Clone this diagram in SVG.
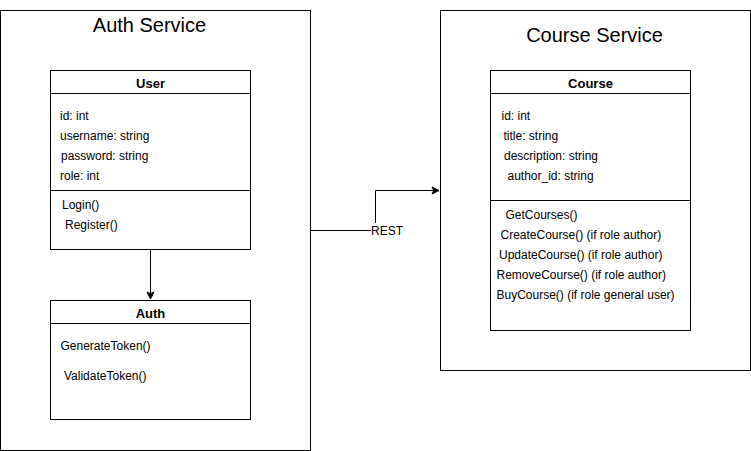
<svg xmlns="http://www.w3.org/2000/svg" width="751" height="451" viewBox="0 0 751 451">
<style>
.box{fill:#fff;stroke:#000;stroke-width:1}
.ln{fill:none;stroke:#000;stroke-width:1}
text{font-family:"Liberation Sans",Arial,sans-serif;fill:#000}
.t{font-size:20px;text-anchor:middle}
.h{font-size:13px;font-weight:bold;text-anchor:middle}
.a{font-size:12px}
</style>
<defs>
<marker id="arr" markerUnits="userSpaceOnUse" markerWidth="10" markerHeight="10" viewBox="0 0 10 10" refX="8" refY="5" orient="auto">
<path d="M8,5 L1,1.5 L2.75,5 L1,8.5 Z" fill="#000" stroke="#000" stroke-width="1"/>
</marker>
</defs>
<g id="auth-service">
<rect class="box" x="0.5" y="10.5" width="310" height="440"/>
<text class="t" x="149.5" y="32">Auth Service</text>
</g>
<g id="course-service">
<rect class="box" x="440.5" y="10.5" width="310" height="360"/>
<text class="t" x="594.5" y="42">Course Service</text>
</g>
<g id="user">
<rect class="box" x="50.5" y="70.5" width="200" height="179"/>
<line class="ln" x1="50.5" y1="93.5" x2="250.5" y2="93.5"/>
<line class="ln" x1="50.5" y1="190.5" x2="250.5" y2="190.5"/>
<text class="h" x="150.5" y="87.5">User</text>
<text class="a" x="60" y="119.5">id: int</text>
<text class="a" x="60" y="139.5">username: string</text>
<text class="a" x="61" y="159.5">password: string</text>
<text class="a" x="60" y="179.5">role: int</text>
<text class="a" x="62" y="208.5">Login()</text>
<text class="a" x="65" y="228.5">Register()</text>
</g>
<g id="auth">
<rect class="box" x="50.5" y="300.5" width="200" height="119"/>
<line class="ln" x1="50.5" y1="323.5" x2="250.5" y2="323.5"/>
<text class="h" x="150.5" y="317.5">Auth</text>
<text class="a" x="60.5" y="350">GenerateToken()</text>
<text class="a" x="64" y="380">ValidateToken()</text>
</g>
<g id="course">
<rect class="box" x="490.5" y="70.5" width="200" height="260"/>
<line class="ln" x1="490.5" y1="93.5" x2="690.5" y2="93.5"/>
<line class="ln" x1="490.5" y1="200.5" x2="690.5" y2="200.5"/>
<text class="h" x="590.5" y="87.5">Course</text>
<text class="a" x="501.5" y="119.5">id: int</text>
<text class="a" x="503.5" y="139.5">title: string</text>
<text class="a" x="504" y="159.5">description: string</text>
<text class="a" x="507.5" y="179.5">author_id: string</text>
<text class="a" x="505.5" y="218.5">GetCourses()</text>
<text class="a" x="500.5" y="238.5">CreateCourse() (if role author)</text>
<text class="a" x="499" y="258.5">UpdateCourse() (if role author)</text>
<text class="a" x="496.5" y="278.5">RemoveCourse() (if role author)</text>
<text class="a" x="496.5" y="298.5">BuyCourse() (if role general user)</text>
</g>
<g id="connectors">
<path class="ln" d="M150.5,249.5 V299" marker-end="url(#arr)"/>
<path class="ln" d="M310.5,230.5 H375.5 V190.5 H439" marker-end="url(#arr)"/>
<rect x="371" y="223" width="32" height="14" fill="#fff"/>
<text class="a" x="371" y="235">REST</text>
</g>
</svg>
